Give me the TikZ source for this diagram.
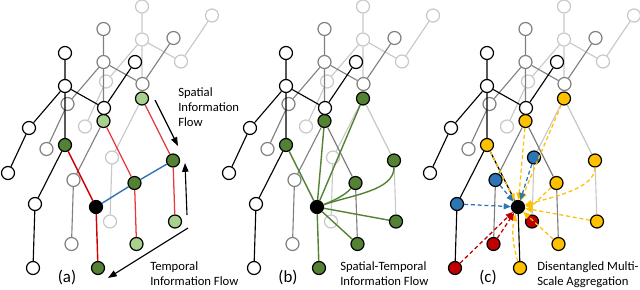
\documentclass[tikz,border=0pt]{standalone}
\usepackage{fontspec}
\setmainfont{Carlito}
\usetikzlibrary{arrows.meta}
\definecolor{midgray}{HTML}{808080}
\definecolor{palegray}{HTML}{C8C8C8}
\definecolor{darkgreen}{HTML}{548235}
\definecolor{lightgreen}{HTML}{A9D18E}
\definecolor{legred}{HTML}{E8383D}
\definecolor{deepred}{HTML}{D00000}
\definecolor{linkblue}{HTML}{2E75B6}
\definecolor{amber}{HTML}{FFC000}
\definecolor{crimson}{HTML}{C00000}
\tikzset{
  joint/.style={circle, draw, fill=white, line width=0.85pt, minimum size=0.325cm, inner sep=0pt},
  front/.style={draw=black},
  mid/.style={draw=midgray},
  back/.style={draw=palegray},
  bone/.style={line width=0.8pt},
  hub/.style={fill=black, draw=black},
  dgreen/.style={fill=darkgreen, draw=black},
  lgreen/.style={fill=lightgreen, draw=black},
  yel/.style={fill=amber, draw=black},
  bluej/.style={fill=linkblue, draw=black},
  redj/.style={fill=crimson, draw=black},
  redleg/.style={draw=legred, line width=0.9pt},
  deepleg/.style={draw=deepred, line width=1pt},
  timeline/.style={draw=linkblue, line width=1pt},
  flow/.style={draw=darkgreen, line width=1pt},
  pointer/.style={-{Triangle[length=2.2mm,width=1.6mm]}, line width=0.8pt},
  dashlink/.style={dash pattern=on 1mm off 0.7mm, line width=0.9pt, -{Triangle[length=1.8mm,width=1.5mm]}},
  ydash/.style={dashlink, draw=amber},
  bdash/.style={dashlink, draw=linkblue},
  rdash/.style={dashlink, draw=crimson},
  caption/.style={font=\fontsize{9}{10.8}\selectfont, align=left, anchor=north west, inner sep=0pt},
  tag/.style={font=\fontsize{12}{14}\selectfont, inner sep=0pt}
}
% #1 name, #2 shift, #3 tone, #4 hip, #5 rknee, #6 rfoot, #7 lknee, #8 lfoot, #9 right leg
\newcommand{\skel}[9]{%
  \begin{scope}[shift={(#2)}]
    \node[joint,#3] (#1head) at (65,53) {};
    \node[joint,#3] (#1neck) at (65,86) {};
    \node[joint,#3] (#1relb) at (104,108) {};
    \node[joint,#3] (#1rhand) at (135,62) {};
    \node[joint,#3] (#1lelb) at (29,128) {};
    \node[joint,#3] (#1lhand) at (8,173) {};
    \node[joint,#3,#4] (#1hip) at (65,145) {};
    \node[joint,#3,#7] (#1lknee) at (35,204) {};
    \node[joint,#3,#8] (#1lfoot) at (33,268) {};
    \node[joint,#3,#5] (#1rknee) at (96,207) {};
    \node[joint,#3,#6] (#1rfoot) at (98,268) {};
    \draw[bone,#3] (#1head) -- (#1neck) -- (#1relb) -- (#1rhand)
      (#1neck) -- (#1lelb) -- (#1lhand)
      (#1neck) -- (#1hip) -- (#1lknee) -- (#1lfoot);
    \draw[#9] (#1hip) -- (#1rknee) -- (#1rfoot);
  \end{scope}}

\begin{document}
\begin{tikzpicture}[x=0.025cm, y=-0.025cm]
  \useasboundingbox (0,0) rectangle (640,290);

  % (a) spatial and temporal flow
  \begin{scope}
    \skel{a3}{77,-46.5}{back}{lgreen}{dgreen}{lgreen}{}{}{redleg}
    \skel{a2}{38.5,-24}{mid}{lgreen}{dgreen}{lgreen}{}{}{redleg}
    \skel{a1}{0,0}{front}{dgreen}{hub}{dgreen}{}{}{deepleg}
    \draw[timeline] (a1rknee) -- (a2rknee) -- (a3rknee);
    \coordinate (sflow0) at (155,100);
    \coordinate (sflow1) at (178,146);
    \coordinate (tup0) at (187,215);
    \coordinate (tup1) at (185,163);
    \coordinate (tflow0) at (188,228);
    \coordinate (tflow1) at (108,278);
    \draw[pointer] (sflow0) -- (sflow1);
    \draw[pointer] (tup0) -- (tup1);
    \draw[pointer] (tflow0) -- (tflow1);
    \node[caption] (spatialtxt) at (178,87) {Spatial\\Information\\Flow};
    \node[caption] (temporaltxt) at (150,261) {Temporal\\Information Flow};
    \node[tag] (taga) at (67,277) {(a)};
  \end{scope}

  % (b) spatial-temporal flow
  \begin{scope}[shift={(221,0)}]
    \skel{b3}{77,-46.5}{back}{dgreen}{dgreen}{dgreen}{}{}{bone,back}
    \skel{b2}{38.5,-24}{mid}{dgreen}{dgreen}{dgreen}{}{}{bone,mid}
    \skel{b1}{0,0}{front}{dgreen}{hub}{dgreen}{}{}{flow}
    \draw[flow] (b1rknee) -- (b2hip);
    \draw[flow] (b1rknee) -- (b3hip);
    \draw[flow] (b1rknee) .. controls +(16,-6) and +(-10,12) .. (b2rknee);
    \draw[flow] (b1rknee) .. controls +(35,-12) and +(0,30) .. (b3rknee);
    \draw[flow] (b1rknee) -- (b2rfoot);
    \draw[flow] (b1rknee) -- (b3rfoot);
    \node[caption] (sttxt) at (119,261) {Spatial-Temporal\\Information Flow};
    \node[tag] (tagb) at (67,277) {(b)};
  \end{scope}

  % (c) disentangled multi-scale aggregation
  \begin{scope}[shift={(422,0)}]
    \skel{c3}{77,-46.5}{back}{yel}{yel}{yel}{bluej}{redj}{bone,back}
    \skel{c2}{38.5,-24}{mid}{yel}{yel}{yel}{bluej}{redj}{bone,mid}
    \skel{c1}{0,0}{front}{yel}{hub}{yel}{bluej}{redj}{bone,front}
    \draw[ydash] (c1hip) -- (c1rknee);
    \draw[ydash] (c2hip) -- (c1rknee);
    \draw[ydash] (c3hip) -- (c1rknee);
    \draw[ydash] (c2rknee) .. controls +(-14,12) and +(16,-2) .. (c1rknee);
    \draw[ydash] (c3rknee) .. controls +(0,28) and +(35,-10) .. (c1rknee);
    \draw[ydash] (c3rfoot) -- (c1rknee);
    \draw[ydash] (c2rfoot) -- (c1rknee);
    \draw[ydash] (c1rfoot) .. controls +(-8,-25) and +(-6,20) .. (c1rknee);
    \draw[bdash] (c1lknee) -- (c1rknee);
    \draw[bdash] (c2lknee) -- (c1rknee);
    \draw[bdash] (c3lknee) -- (c1rknee);
    \draw[rdash] (c1lfoot) -- (c1rknee);
    \draw[rdash] (c2lfoot) -- (c1rknee);
    \node[caption] (dmtxt) at (115,261) {Disentangled Multi-\\Scale Aggregation};
    \node[tag] (tagc) at (66,277) {(c)};
  \end{scope}
\end{tikzpicture}
\end{document}
